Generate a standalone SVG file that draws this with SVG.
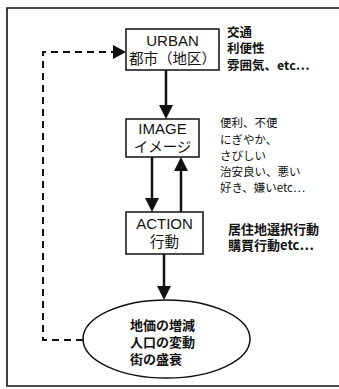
<svg xmlns="http://www.w3.org/2000/svg" width="339" height="389" viewBox="0 0 339 389">
<style>
.bg{fill:#fff}
.frame{fill:none;stroke:#111;stroke-width:1.6}
.box{fill:#fff;stroke:#111;stroke-width:1.5}
.lat{font-family:"Liberation Sans",Arial,sans-serif;font-size:15px;fill:#111;text-anchor:middle}
.jp{font-family:"Noto Sans CJK JP","Liberation Sans",sans-serif;fill:#111}
.bt{font-size:14.5px;text-anchor:middle}
.note{font-size:12.5px;font-weight:bold}
.note2{font-size:11.5px}
.note3{font-size:13px;font-weight:bold}
.ell{font-size:13px;font-weight:bold}
.arr{stroke:#111;stroke-width:2.5;fill:none}
.dash{stroke:#111;stroke-width:2;fill:none;stroke-dasharray:7 5}
.head{fill:#111}
</style>
<rect class="bg" x="0" y="0" width="339" height="389"/>
<path class="frame" d="M339 8 H7 V386 H339"/>
<g id="connectors">
  <line class="arr" x1="166" y1="70" x2="166" y2="106"/>
  <polygon class="head" points="159,105 173,105 166,119"/>
  <line class="arr" x1="152" y1="157" x2="152" y2="199"/>
  <polygon class="head" points="145,198 159,198 152,212"/>
  <line class="arr" x1="181" y1="212" x2="181" y2="170"/>
  <polygon class="head" points="174,171 188,171 181,157"/>
  <line class="arr" x1="164" y1="254" x2="164" y2="287"/>
  <polygon class="head" points="157,286 171,286 164,300"/>
  <path class="dash" d="M83 340 H43 V52 H114"/>
  <polygon class="head" points="113,45 113,59 126,52"/>
</g>
<g id="urban">
  <rect class="box" x="126" y="29" width="93" height="41"/>
  <text class="lat" x="172.5" y="46">URBAN</text>
  <text class="jp bt" x="172.5" y="64">都市（地区）</text>
</g>
<g id="image">
  <rect class="box" x="126" y="119" width="73" height="38"/>
  <text class="lat" x="162.5" y="134">IMAGE</text>
  <text class="jp bt" x="162.5" y="152">イメージ</text>
</g>
<g id="action">
  <rect class="box" x="126" y="212" width="77" height="42"/>
  <text class="lat" x="164.5" y="229">ACTION</text>
  <text class="jp bt" x="164.5" y="247">行動</text>
</g>
<g id="result">
  <ellipse class="box" cx="166.5" cy="339" rx="83.5" ry="39"/>
  <text class="jp ell" x="130" y="330">地価の増減</text>
  <text class="jp ell" x="130" y="347">人口の変動</text>
  <text class="jp ell" x="130" y="364">街の盛衰</text>
</g>
<g id="notes-urban">
  <text class="jp note" x="227" y="37">交通</text>
  <text class="jp note" x="227" y="53">利便性</text>
  <text class="jp note" x="227" y="69.5">雰囲気、etc…</text>
</g>
<g id="notes-image">
  <text class="jp note2" x="220" y="127">便利、不便</text>
  <text class="jp note2" x="220" y="143.5">にぎやか、</text>
  <text class="jp note2" x="220" y="159.5">さびしい</text>
  <text class="jp note2" x="220" y="175.5">治安良い、悪い</text>
  <text class="jp note2" x="220" y="191.5">好き、嫌いetc…</text>
</g>
<g id="notes-action">
  <text class="jp note3" x="228" y="234">居住地選択行動</text>
  <text class="jp note3" x="228" y="250">購買行動etc…</text>
</g>
</svg>
